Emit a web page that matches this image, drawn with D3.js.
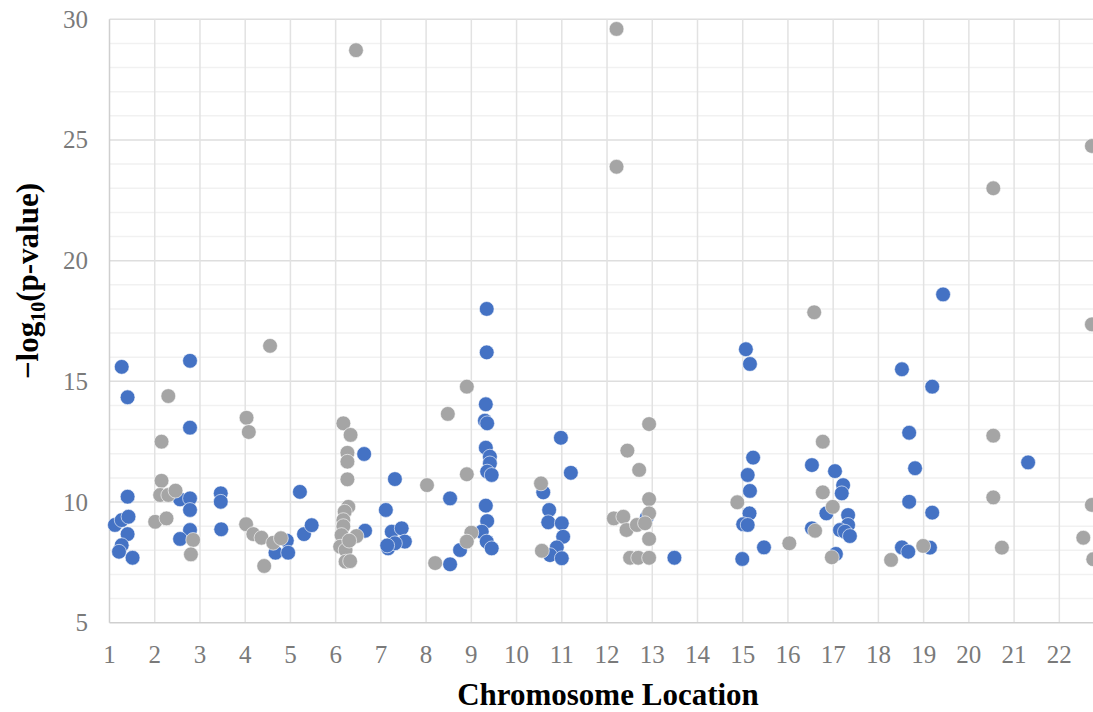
<!DOCTYPE html>
<html>
<head>
<meta charset="utf-8">
<script src="https://cdn.jsdelivr.net/npm/d3@7"></script>
<style>
  html, body { margin: 0; padding: 0; background: #fff; overflow: hidden; }
  svg { display: block; }
</style>
</head>
<body>
<script>
// chromosome ticks and y ticks
const chromTicks = d3.range(1, 23)
const yTicks = [5, 10, 15, 20, 25, 30]
const yMinor = d3.range(5, 31)

// [location, -log10(p)]
const bluePoints = [
    [1.12, 9.05], [1.27, 9.25], [1.42, 9.39], [1.40, 10.22], [1.40, 8.67], [1.27, 8.21], [1.21, 7.94], [1.51, 7.69], [1.27, 15.6], [1.40, 14.34],
    [2.56, 10.11], [2.78, 10.15], [2.78, 9.67], [2.78, 8.84], [2.56, 8.47], [2.78, 15.85], [2.78, 13.08],
    [3.46, 10.36], [3.46, 10.01], [3.47, 8.87],
    [4.92, 8.4], [4.67, 7.9], [4.95, 7.9], [5.21, 10.42], [5.30, 8.67], [5.47, 9.04],
    [6.63, 11.99], [6.65, 8.81],
    [7.11, 9.67], [7.31, 10.95], [7.24, 8.77], [7.46, 8.91], [7.53, 8.36], [7.16, 8.08], [7.31, 8.29], [7.14, 8.2],
    [8.53, 10.15], [8.53, 7.42], [8.75, 8.01],
    [9.34, 18.0], [9.34, 16.2], [9.32, 14.05], [9.30, 13.37], [9.35, 13.26], [9.32, 12.25], [9.41, 11.88], [9.41, 11.6], [9.35, 11.26], [9.45, 11.12], [9.32, 9.85], [9.35, 9.21], [9.23, 8.77], [9.34, 8.36], [9.45, 8.08],
    [10.59, 10.4], [10.72, 9.67], [10.70, 9.16], [11.0, 9.12], [11.03, 8.56], [10.89, 8.12], [10.74, 7.8], [11.0, 7.67], [11.2, 11.21], [10.98, 12.66],
    [12.88, 9.37], [13.49, 7.69],
    [15.07, 16.33], [15.16, 15.72], [15.23, 11.84], [15.11, 11.12], [15.16, 10.46], [15.15, 9.53], [15.01, 9.08], [15.11, 9.05], [14.99, 7.64], [15.47, 8.12],
    [16.53, 11.53], [17.04, 11.28], [17.22, 10.7], [17.19, 10.36], [16.85, 9.53], [17.33, 9.46], [17.33, 9.05], [17.15, 8.84], [17.26, 8.77], [17.37, 8.59], [16.53, 8.91], [17.06, 7.85],
    [18.52, 8.12], [18.66, 7.94], [19.14, 8.11], [18.68, 10.01], [19.19, 9.56], [18.81, 11.4], [18.68, 12.87], [18.52, 15.5], [19.19, 14.78], [19.43, 18.6],
    [21.31, 11.64]
]

const grayPoints = [
    [2.30, 14.39], [2.15, 12.5], [2.15, 10.88], [2.12, 10.29], [2.30, 10.29], [2.46, 10.47], [2.01, 9.18], [2.26, 9.32], [2.85, 8.43], [2.80, 7.83],
    [4.03, 13.49], [4.08, 12.9], [4.02, 9.08], [4.18, 8.67], [4.36, 8.52], [4.62, 8.31], [4.79, 8.5], [4.42, 7.35], [4.55, 16.47],
    [6.45, 28.72], [6.17, 13.26], [6.33, 12.78], [6.26, 12.04], [6.26, 11.67], [6.26, 10.94], [6.28, 9.8], [6.20, 9.6], [6.17, 9.25], [6.17, 9.0], [6.13, 8.63], [6.46, 8.59], [6.10, 8.15], [6.22, 8.01], [6.22, 7.53], [6.32, 7.55], [6.30, 8.4],
    [8.02, 10.7], [8.20, 7.47], [8.48, 13.65], [8.90, 14.78], [8.90, 11.15], [9.0, 8.73], [8.9, 8.36],
    [10.54, 10.77], [10.56, 7.98],
    [12.21, 29.6], [12.21, 23.89], [12.93, 13.23], [12.45, 12.13], [12.71, 11.33], [12.93, 10.12], [12.93, 9.53], [12.15, 9.32], [12.36, 9.39], [12.43, 8.84], [12.66, 9.05], [12.84, 9.12], [12.93, 8.47], [12.51, 7.69], [12.69, 7.69], [12.93, 7.69],
    [14.88, 9.99],
    [16.03, 8.29], [16.58, 17.86], [16.77, 12.5], [16.77, 10.4], [16.99, 9.8], [16.6, 8.81], [16.97, 7.71],
    [18.28, 7.6], [18.99, 8.18],
    [20.54, 23.0], [20.54, 12.75], [20.54, 10.19], [20.73, 8.11],
    [22.72, 24.75], [22.72, 17.36], [22.72, 9.88], [22.53, 8.52], [22.75, 7.63]
]

const width = 1093
const height = 712
const left = 109.5
const step = 45.23

const x = d3.scaleLinear().domain([1, 23]).range([left, left + 22 * step])
const y = d3.scaleLinear().domain([5, 30]).range([622.7, 19.3])

const svg = d3.select("body").append("svg")
    .attr("width", width)
    .attr("height", height)

const font = "'Liberation Serif', 'Times New Roman', serif"

// minor horizontal grid
svg.append("g").selectAll("line")
    .data(yMinor.filter(d => d % 5 != 0))
    .join("line")
    .attr("x1", x(1)).attr("x2", width)
    .attr("y1", d => y(d)).attr("y2", d => y(d))
    .attr("stroke", "#f1f1f1")
    .attr("stroke-width", 1.5)

// major horizontal grid
svg.append("g").selectAll("line")
    .data(yTicks.slice(1))
    .join("line")
    .attr("x1", x(1)).attr("x2", width)
    .attr("y1", d => y(d)).attr("y2", d => y(d))
    .attr("stroke", "#dedede")
    .attr("stroke-width", 1.5)

// vertical grid
svg.append("g").selectAll("line")
    .data(d3.range(2, 24))
    .join("line")
    .attr("x1", d => x(d)).attr("x2", d => x(d))
    .attr("y1", y(30)).attr("y2", y(5))
    .attr("stroke", "#e2e2e2")
    .attr("stroke-width", 1.5)

// axis lines
svg.append("line")
    .attr("x1", x(1)).attr("x2", x(1))
    .attr("y1", y(30)).attr("y2", y(5))
    .attr("stroke", "#cfcfcf").attr("stroke-width", 1.5)
svg.append("line")
    .attr("x1", x(1)).attr("x2", width)
    .attr("y1", y(5)).attr("y2", y(5))
    .attr("stroke", "#cfcfcf").attr("stroke-width", 1.5)

// y tick labels
svg.append("g").selectAll("text")
    .data(yTicks)
    .join("text")
    .attr("x", 88)
    .attr("y", d => y(d))
    .attr("dy", "0.34em")
    .attr("text-anchor", "end")
    .attr("font-family", font)
    .attr("font-size", 25)
    .attr("fill", "#7a7a7a")
    .text(d => d)

// x tick labels
svg.append("g").selectAll("text")
    .data(chromTicks)
    .join("text")
    .attr("x", d => x(d))
    .attr("y", 663)
    .attr("text-anchor", "middle")
    .attr("font-family", font)
    .attr("font-size", 25)
    .attr("fill", "#7a7a7a")
    .text(d => d)

// points, gray drawn over blue
function drawPoints(points, color) {
    svg.append("g").selectAll("circle")
        .data(points)
        .join("circle")
        .attr("cx", d => x(d[0]))
        .attr("cy", d => y(d[1]))
        .attr("r", 7.4)
        .attr("fill", color)
        .attr("stroke", "#fff")
        .attr("stroke-width", 0.6)
}
drawPoints(bluePoints, "#4472C4")
drawPoints(grayPoints, "#A5A5A5")

// axis titles
svg.append("text")
    .attr("x", 608)
    .attr("y", 705)
    .attr("text-anchor", "middle")
    .attr("font-family", font)
    .attr("font-size", 31)
    .attr("font-weight", "bold")
    .attr("fill", "#000")
    .text("Chromosome Location")

const yTitle = svg.append("text")
    .attr("transform", "translate(38,281) rotate(-90)")
    .attr("text-anchor", "middle")
    .attr("font-family", font)
    .attr("font-size", 31)
    .attr("font-weight", "bold")
    .attr("fill", "#000")
yTitle.append("tspan").text("\u2212log")
yTitle.append("tspan").attr("font-size", 20).attr("dy", 7).text("10")
yTitle.append("tspan").attr("dy", -7).text("(p-value)")
</script>
</body>
</html>
